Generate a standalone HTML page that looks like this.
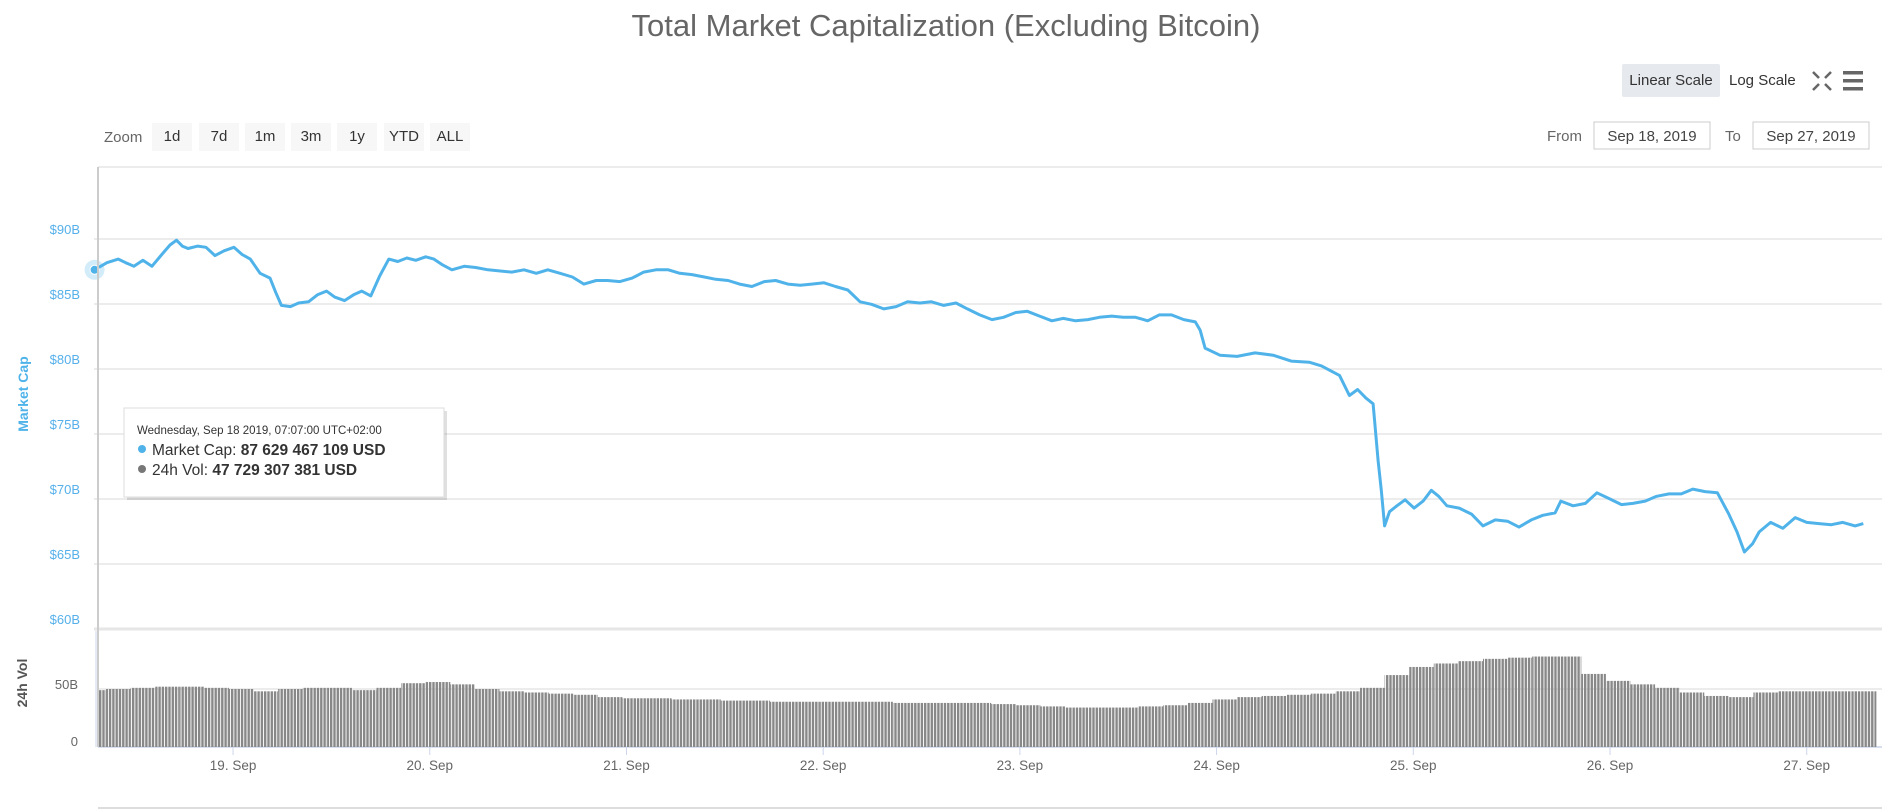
<!DOCTYPE html>
<html><head><meta charset="utf-8"><style>
body{margin:0;width:1893px;height:810px;background:#fff;overflow:hidden;font-family:"Liberation Sans","DejaVu Sans",sans-serif;}
svg{position:absolute;left:0;top:0}
</style></head><body>
<svg id="chart" width="1893" height="810" xmlns="http://www.w3.org/2000/svg">
<defs>
<pattern id="stripes" width="3.3" height="10" patternUnits="userSpaceOnUse"><rect width="2.4" height="10" fill="#888"/></pattern>
</defs>
<text x="946" y="36" text-anchor="middle" font-size="31" fill="#666">Total Market Capitalization (Excluding Bitcoin)</text>
<g>
<rect x="1622" y="64" width="98" height="33" rx="2" fill="#e6e9ed"/>
<text x="1671" y="85" text-anchor="middle" font-size="15" fill="#333">Linear Scale</text>
<text x="1729" y="85" font-size="15" fill="#333">Log Scale</text>
<g stroke="#666" stroke-width="2.5" fill="none">
<path d="M1813 72 l6 6 M1831 72 l-6 6 M1813 90 l6 -6 M1831 90 l-6 -6"/></g>
<g fill="#666"><rect x="1843" y="71" width="20" height="3.5"/><rect x="1843" y="79" width="20" height="3.5"/><rect x="1843" y="87" width="20" height="3.5"/></g>
</g>
<g font-size="15" fill="#333">
<text x="104" y="142" fill="#666">Zoom</text>
<g><rect x="152" y="123" width="40" height="28" fill="#f7f7f7"/><text x="172" y="141" text-anchor="middle">1d</text></g>
<g><rect x="199" y="123" width="40" height="28" fill="#f7f7f7"/><text x="219" y="141" text-anchor="middle">7d</text></g>
<g><rect x="245" y="123" width="40" height="28" fill="#f7f7f7"/><text x="265" y="141" text-anchor="middle">1m</text></g>
<g><rect x="291" y="123" width="40" height="28" fill="#f7f7f7"/><text x="311" y="141" text-anchor="middle">3m</text></g>
<g><rect x="337" y="123" width="40" height="28" fill="#f7f7f7"/><text x="357" y="141" text-anchor="middle">1y</text></g>
<g><rect x="384" y="123" width="40" height="28" fill="#f7f7f7"/><text x="404" y="141" text-anchor="middle">YTD</text></g>
<g><rect x="430" y="123" width="40" height="28" fill="#f7f7f7"/><text x="450" y="141" text-anchor="middle">ALL</text></g>
</g>
<g font-size="15" fill="#666">
<text x="1547" y="141">From</text>
<rect x="1594" y="122" width="116" height="27" fill="#fff" stroke="#ccc"/>
<text x="1652" y="141" text-anchor="middle" fill="#444">Sep 18, 2019</text>
<text x="1725" y="141">To</text>
<rect x="1753" y="122" width="116" height="27" fill="#fff" stroke="#ccc"/>
<text x="1811" y="141" text-anchor="middle" fill="#444">Sep 27, 2019</text>
</g>
<g id="grid"></g>
<g id="vol"></g>
<g id="line"></g>
<g id="axes"></g>
<g>
<rect x="125" y="409" width="320" height="89" fill="#000" opacity="0.12" transform="translate(2,2)"/>
<rect x="124" y="408" width="320" height="89" fill="#fff" stroke="#ddd"/>
<text x="137" y="434" font-size="11.5" fill="#333">Wednesday, Sep 18 2019, 07:07:00 UTC+02:00</text>
<circle cx="142" cy="449" r="4" fill="#4fb3ea"/>
<text x="152" y="455" font-size="15.5" fill="#333">Market Cap: <tspan font-weight="bold">87 629 467 109 USD</tspan></text>
<circle cx="142" cy="469" r="4" fill="#777"/>
<text x="152" y="475" font-size="15.5" fill="#333">24h Vol: <tspan font-weight="bold">47 729 307 381 USD</tspan></text>
</g>
</svg>
<script>
const capHours=[7.1,8.6,10.0,10.9,11.9,13.0,14.1,15.3,16.3,17.1,17.8,18.5,19.7,20.7,21.8,22.9,24.1,25.1,26.1,27.3,28.5,29.2,29.9,31.0,32.0,33.2,34.3,35.4,36.4,37.6,38.7,39.7,40.8,41.9,43.0,44.1,45.2,46.3,47.5,48.5,49.6,50.7,
52.2,53.6,55.1,56.6,58.0,59.5,61.0,62.4,63.9,65.4,66.8,68.3,69.7,71.2,72.7,74.1,75.6,77.1,78.5,80.0,81.5,82.9,84.4,85.8,87.3,88.8,90.2,91.7,93.2,94.6,96.1,97.5,99.0,100.5,101.9,103.4,104.9,106.3,107.8,109.2,110.7,112.2,113.6,115.1,116.6,118.0,119.5,120.9,122.4,123.9,125.3,126.8,128.3,129.7,131.2,132.6,134.1,135.6,137.0,138.5,140.0,141.4,
142.0,142.6,144.4,146.5,148.7,150.9,153.1,155.3,156.8,159.0,160.2,161.2,162.2,163.1,163.7,164.1,164.5,165.1,166.0,167.0,168.1,169.2,170.2,171.1,172.1,173.6,175.1,176.5,178.0,179.5,180.9,182.4,183.8,185.3,186.0,187.5,189.0,190.4,191.9,193.4,194.8,196.3,197.7,199.2,200.7,202.1,203.6,205.1,206.5,207.5,208.4,209.4,210.2,211.6,213.1,214.6,216.0,217.5,219.0,220.4,221.9,222.9];
const capValues=[87.63,88.18,88.45,88.18,87.90,88.36,87.90,88.81,89.54,89.91,89.45,89.27,89.45,89.36,88.72,89.09,89.36,88.81,88.45,87.36,86.99,85.90,84.89,84.80,85.08,85.17,85.71,85.99,85.53,85.26,85.71,85.99,85.62,87.17,88.45,88.27,88.54,88.36,88.63,88.45,87.99,87.63,
87.90,87.81,87.63,87.54,87.45,87.63,87.36,87.63,87.36,87.08,86.53,86.81,86.81,86.72,86.99,87.45,87.63,87.63,87.36,87.26,87.08,86.90,86.81,86.53,86.35,86.72,86.81,86.53,86.44,86.53,86.63,86.35,86.08,85.17,84.98,84.62,84.80,85.17,85.08,85.17,84.89,85.08,84.62,84.16,83.80,83.98,84.35,84.44,84.07,83.71,83.89,83.71,83.80,83.98,84.07,83.98,83.98,83.71,84.16,84.16,83.80,83.62,
82.98,81.61,81.06,80.97,81.24,81.06,80.61,80.52,80.24,79.51,77.96,78.42,77.78,77.32,72.95,70.67,67.93,69.02,69.48,69.94,69.30,69.84,70.67,70.21,69.48,69.30,68.84,67.93,68.39,68.29,67.84,68.39,68.75,68.93,69.84,69.48,69.66,70.48,70.03,69.57,69.66,69.84,70.21,70.39,70.39,70.76,70.57,70.48,68.84,67.47,65.92,66.56,67.47,68.20,67.75,68.57,68.20,68.11,68.02,68.20,67.93,68.11];
const volStartHour=7;
const volStepHours=3;
const volValues=[49,50,51,52,52,51,50,48,50,51,51,49,51,55,56,54,50,48,47,46,45,43,42,42,41,41,40,40,39,39,39,39,39,38,38,38,38,37,36,35,34,34,34,35,36,38,41,43,44,45,46,48,51,62,69,72,74,76,77,78,78,63,57,54,51,47,44,43,47,48,48,48,48];
const capTicks=[60,65,70,75,80,85,90];
const volTicks=[0,50];
const dayLabels=['19. Sep','20. Sep','21. Sep','22. Sep','23. Sep','24. Sep','25. Sep','26. Sep','27. Sep'];
const dayHours=[24,48,72,96,120,144,168,192,216];

const NS='http://www.w3.org/2000/svg';
const L=98,R=1882;
const xs=h=>1610+(h-192)*8.196;
const ys=v=>629-(v-60)*13;
const yv=v=>747-v*1.16;
function mk(tag,attrs,parent,txt){const e=document.createElementNS(NS,tag);for(const k in attrs)e.setAttribute(k,attrs[k]);if(txt!==undefined)e.textContent=txt;parent.appendChild(e);return e;}
const grid=document.getElementById('grid'),axes=document.getElementById('axes'),vol=document.getElementById('vol'),line=document.getElementById('line');
let g=mk('line',{x1:L,x2:R,y1:167,y2:167,stroke:'#e6e6e6','stroke-width':1.5},grid);


capTicks.forEach(v=>{
 const y=ys(v);
 const gl=mk('line',{x1:L-4,x2:R,y1:y,y2:y,stroke:'#e6e6e6','stroke-width':v===60?3:1.5},grid);
 
 
 const t=mk('text',{x:80,y:y-5,'text-anchor':'end','font-size':13,fill:'#55b0ea'},axes,'$'+v+'B');
 
 
});
volTicks.forEach(v=>{
 const y=yv(v);
 const gl=mk('line',{x1:L,x2:R,y1:y,y2:y,stroke:v===0?'#ccd6eb':'#e6e6e6','stroke-width':1.5},grid);
 
 
 const t=mk('text',{x:78,y:y+(v===0?-1:0),'text-anchor':'end','font-size':13,fill:'#666'},axes,v===0?'0':v+'B');
 
 
});
let a=mk('line',{x1:L,x2:L,y1:167,y2:747,stroke:'#ccc','stroke-width':2},axes);


a=mk('line',{x1:96,x2:96,y1:631,y2:747,stroke:'#ccd6eb','stroke-width':1},axes);


a=mk('line',{x1:L,x2:R,y1:808,y2:808,stroke:'#ddd','stroke-width':2},axes);


dayHours.forEach((h,i)=>{
 const x=xs(h);
 const tk=mk('line',{x1:x,x2:x,y1:747,y2:755,stroke:'#ccd6eb'},axes);
 
 
 const t=mk('text',{x:x,y:770,'text-anchor':'middle','font-size':13.5,fill:'#666'},axes,dayLabels[i]);
 
 
});
let t=mk('text',{transform:'translate(28,394) rotate(-90)','text-anchor':'middle','font-size':14,'font-weight':'bold',fill:'#4fb3ea'},axes,'Market Cap');


t=mk('text',{transform:'translate(27,683) rotate(-90)','text-anchor':'middle','font-size':14,'font-weight':'bold',fill:'#555'},axes,'24h Vol');


volValues.forEach((v,i)=>{
 const h0=volStartHour+i*volStepHours;
 const x0=Math.max(L+1,xs(h0-volStepHours/2)),x1=Math.min(R,xs(h0+volStepHours/2));
 const b=mk('rect',{x:x0,y:yv(v),width:x1-x0,height:747-yv(v),fill:'url(#stripes)'},vol);
 
 
});
const d=capHours.map((h,i)=>(i?'L':'M')+xs(h).toFixed(1)+' '+ys(capValues[i]).toFixed(1)).join(' ');
const p=mk('path',{d:d,fill:'none',stroke:'#4fb3ea','stroke-width':3,'stroke-linejoin':'round'},line);


const hx=xs(capHours[0]),hy=ys(capValues[0]);
const halo=mk('circle',{cx:hx,cy:hy,r:10,fill:'#4fb3ea',opacity:0.25},line);


const dot=mk('circle',{cx:hx,cy:hy,r:4.5,fill:'#4fb3ea',stroke:'#fff','stroke-width':1},line);


</script>
</body></html>
